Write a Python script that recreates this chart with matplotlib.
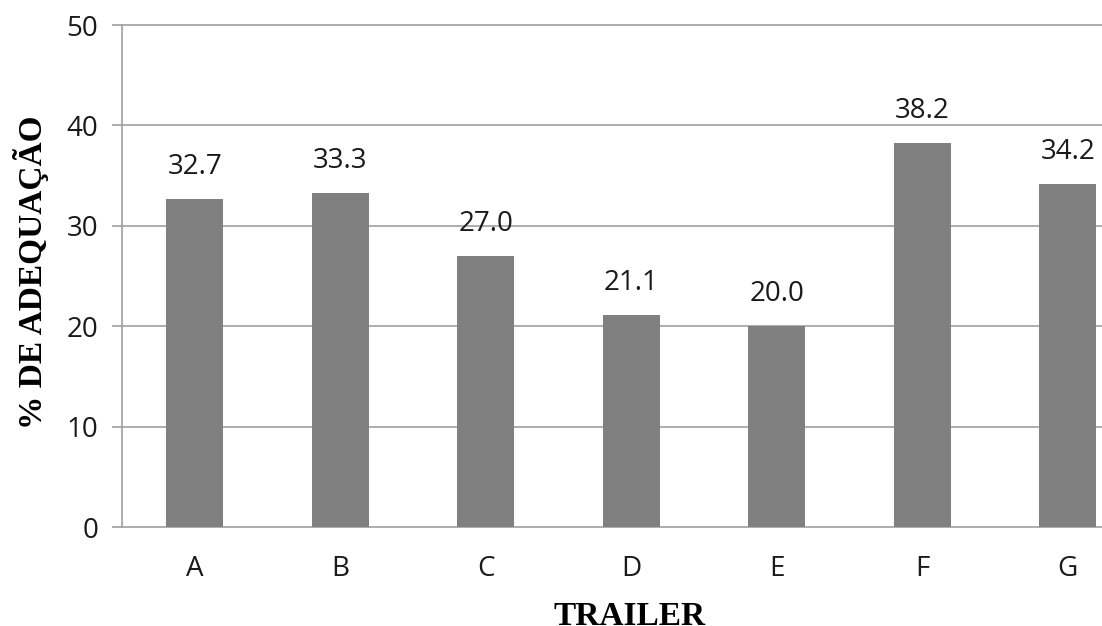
import matplotlib
matplotlib.use("Agg")
import matplotlib.pyplot as plt

trailers = ["A", "B", "C", "D", "E", "F", "G"]
adequacao = [32.7, 33.3, 27.0, 21.1, 20.0, 38.2, 34.2]
y_ticks = [0, 10, 20, 30, 40, 50]

W, H = 1102, 626
fig = plt.figure(figsize=(W / 100, H / 100), dpi=100)
# plot area runs past the right edge of the image
ax = fig.add_axes([122 / W, (H - 527) / H, 1018.5 / W, 502 / H])

grid_col = "#a0a0a0"
txt_col = "#1a1a1a"
for y in y_ticks:
    ax.axhline(y, color=grid_col, lw=1.2, zorder=0, clip_on=False)

x = range(len(trailers))
ax.bar(x, adequacao, width=0.39, color="#808080", zorder=2)

for xi, v in zip(x, adequacao):
    ax.annotate(f"{v:.1f}", (xi, v), xytext=(0, 13), textcoords="offset points",
                ha="center", va="bottom", fontsize=20, family="Open Sans", color=txt_col)

ax.set_xlim(-0.5, len(trailers) - 0.5)
ax.set_ylim(0, 50)
ax.set_yticks(y_ticks)
ax.set_xticks(list(x))
ax.set_xticklabels(trailers)

for s in ["top", "right", "bottom"]:
    ax.spines[s].set_visible(False)
ax.spines["left"].set_color(grid_col)
ax.spines["left"].set_linewidth(1.2)

ax.tick_params(axis="y", length=7, width=1.2, color=grid_col, pad=10,
               labelsize=20, labelcolor=txt_col)
ax.tick_params(axis="x", length=0, pad=20, labelsize=20, labelcolor=txt_col)
for lab in ax.get_xticklabels() + ax.get_yticklabels():
    lab.set_family("Open Sans")

fig.text(31 / W, 1 - 272 / H, "% DE ADEQUAÇÃO", rotation=90, ha="center", va="center",
         fontsize=24, fontweight="bold", family="Liberation Serif")
fig.text(630 / W, 1 - 601 / H, "TRAILER", ha="center", va="top",
         fontsize=24, fontweight="bold", family="Liberation Serif")

fig.savefig("out.png", dpi=100)
